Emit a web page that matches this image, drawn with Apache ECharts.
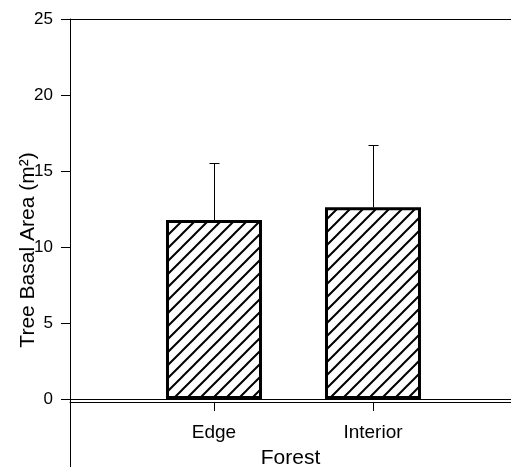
<!DOCTYPE html>
<html>
<head>
<meta charset="utf-8">
<script src="https://cdn.jsdelivr.net/npm/echarts@6/dist/echarts.min.js"></script>
<style>html,body{margin:0;padding:0;background:#fff;}#c{width:511px;height:467px;}</style>
</head>
<body>
<div id="c"></div>
<script>
const categories = ['Edge', 'Interior'];
const means = [11.78, 12.61];
const errors = [3.77, 4.12];
const yTicks = [0, 5, 10, 15, 20, 25];

// hatch pattern "/"
const tile = document.createElement('canvas');
const s = 13;
tile.width = s; tile.height = s;
const g = tile.getContext('2d');
g.fillStyle = '#fff'; g.fillRect(0, 0, s, s);
g.strokeStyle = '#000'; g.lineWidth = 2;
g.beginPath();
g.moveTo(-2, s + 2); g.lineTo(s + 2, -2);
g.moveTo(-2, 2); g.lineTo(2, -2);
g.moveTo(s - 2, s + 2); g.lineTo(s + 2, s - 2);
g.stroke();

const barData = categories.map((c, i) => [i + 1, means[i]]);
const errData = categories.map((c, i) => [i + 1, means[i], means[i] + errors[i]]);
const font = 'Liberation Sans, Arial, sans-serif';

const chart = echarts.init(document.getElementById('c'), null, {renderer: 'canvas'});
chart.setOption({
  backgroundColor: '#fff',
  animation: false,
  grid: {left: 70, right: 0, top: 19, bottom: 0, containLabel: false, outerBoundsMode: 'none'},
  xAxis: {
    type: 'value', min: 0.0943, max: 2.868,
    offset: -65,
    splitLine: {show: false},
    axisLine: {show: true, onZero: false, lineStyle: {color: '#000', width: 1}},
    axisTick: {show: true, length: 9, customValues: [1, 2], lineStyle: {color: '#000'}},
    axisLabel: {customValues: [1, 2], margin: 21, fontSize: 19, color: '#000', fontFamily: font,
      formatter: v => categories[Math.round(v) - 1] || ''},
    name: 'Forest', nameLocation: 'middle', nameGap: 46, nameMoveOverlap: false,
    nameTextStyle: {fontSize: 21, color: '#000', fontFamily: font}
  },
  yAxis: {
    type: 'value', min: -4.47, max: 25,
    splitLine: {show: false},
    axisLine: {show: true, onZero: false, lineStyle: {color: '#000', width: 1}},
    axisTick: {show: true, length: 9, customValues: yTicks, lineStyle: {color: '#000'}},
    axisLabel: {customValues: yTicks, margin: 17, fontSize: 17, color: '#000', fontFamily: font},
    name: 'Tree Basal Area (m²)', nameLocation: 'middle', nameGap: 31, nameMoveOverlap: false,
    nameTextStyle: {fontSize: 21, color: '#000', fontFamily: font, padding: [0, 14, 0, 0]}
  },
  series: [
    {
      type: 'bar', data: barData, barWidth: 96,
      itemStyle: {color: {image: tile, repeat: 'repeat'}, borderColor: '#000', borderWidth: 3},
      markLine: {
        silent: true, symbol: 'none', label: {show: false},
        lineStyle: {color: '#000', width: 1, type: 'solid'},
        data: [{yAxis: 25}, {yAxis: 0}]
      },
      z: 2
    },
    {
      type: 'custom', data: errData, z: 3,
      renderItem: (params, api) => {
        const x = api.value(0);
        const p0 = api.coord([x, api.value(1)]);
        const p1 = api.coord([x, api.value(2)]);
        const cx = Math.round(p0[0]) + 0.5;
        const yt = Math.round(p1[1]) + 0.5;
        return {
          type: 'group',
          children: [
            {type: 'line', shape: {x1: cx, y1: p0[1], x2: cx, y2: yt}, style: {stroke: '#000', lineWidth: 1}},
            {type: 'line', shape: {x1: cx - 5, y1: yt, x2: cx + 5, y2: yt}, style: {stroke: '#000', lineWidth: 1}}
          ]
        };
      }
    }
  ]
});
</script>
</body>
</html>
